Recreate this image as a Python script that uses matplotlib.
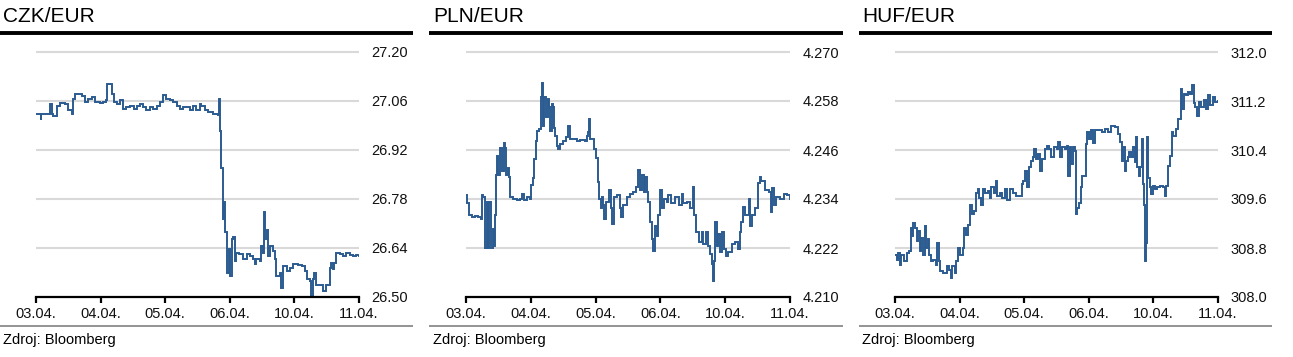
import matplotlib
matplotlib.use("Agg")
import matplotlib.pyplot as plt
from matplotlib.lines import Line2D

plt.rcParams['font.family'] = ['Liberation Sans', 'DejaVu Sans']

# ---------------- data ----------------
date_labels = ["03.04.", "04.04.", "05.04.", "06.04.", "10.04.", "11.04."]
source_text = "Zdroj: Bloomberg"

czk_title = "CZK/EUR"
czk_x = [0.00, 0.06, 0.07, 0.08, 0.22, 0.22, 0.24, 0.27, 0.32, 0.37, 0.45, 0.50, 0.55, 0.58, 0.60,
         0.65, 0.71, 0.76, 0.81, 0.86, 0.91, 0.99, 1.04, 1.08, 1.10, 1.14, 1.17, 1.20, 1.25, 1.30,
         1.35, 1.40, 1.45, 1.51, 1.56, 1.61, 1.66, 1.71, 1.76, 1.81, 1.87, 1.92, 1.97, 2.02, 2.07,
         2.12, 2.18, 2.23, 2.28, 2.33, 2.38, 2.43, 2.48, 2.54, 2.56, 2.61, 2.66, 2.74, 2.82, 2.84,
         2.85, 2.86, 2.87, 2.89, 2.91, 2.93, 2.95, 2.96, 2.98, 3.00, 3.03, 3.05, 3.08, 3.10, 3.15,
         3.21, 3.26, 3.31, 3.36, 3.39, 3.41, 3.46, 3.49, 3.52, 3.53, 3.55, 3.57, 3.59, 3.62, 3.67,
         3.70, 3.72, 3.77, 3.80, 3.82, 3.88, 3.93, 3.98, 4.06, 4.11, 4.16, 4.19, 4.24, 4.26, 4.29,
         4.31, 4.34, 4.39, 4.44, 4.49, 4.55, 4.57, 4.60, 4.62, 4.65, 4.70, 4.75, 4.80, 4.86, 4.91,
         4.96, 5.00]
czk_y = [27.023, 27.023, 27.006, 27.023, 27.023, 27.050, 27.023, 27.018, 27.047, 27.054, 27.052,
         27.033, 27.023, 27.067, 27.081, 27.081, 27.074, 27.057, 27.067, 27.070, 27.057, 27.054,
         27.057, 27.062, 27.108, 27.108, 27.081, 27.057, 27.052, 27.062, 27.038, 27.043, 27.045,
         27.038, 27.045, 27.050, 27.043, 27.035, 27.043, 27.038, 27.045, 27.057, 27.076, 27.067,
         27.062, 27.057, 27.047, 27.038, 27.043, 27.043, 27.033, 27.047, 27.033, 27.052, 27.047,
         27.033, 27.028, 27.023, 27.021, 27.067, 26.975, 26.936, 26.869, 26.724, 26.772, 26.685,
         26.647, 26.569, 26.637, 26.560, 26.666, 26.671, 26.603, 26.627, 26.622, 26.608, 26.622,
         26.618, 26.608, 26.593, 26.608, 26.603, 26.647, 26.627, 26.743, 26.666, 26.690, 26.618,
         26.647, 26.632, 26.608, 26.560, 26.569, 26.526, 26.589, 26.574, 26.584, 26.593, 26.591,
         26.589, 26.574, 26.550, 26.545, 26.502, 26.550, 26.569, 26.535, 26.535, 26.516, 26.535,
         26.584, 26.598, 26.579, 26.598, 26.625, 26.622, 26.618, 26.625, 26.620, 26.618, 26.620,
         26.618]
czk_ticks = [26.50, 26.64, 26.78, 26.92, 27.06, 27.20]
czk_ticklabels = ["26.50", "26.64", "26.78", "26.92", "27.06", "27.20"]

pln_title = "PLN/EUR"
pln_x = [0.00, 0.01, 0.04, 0.05, 0.09, 0.14, 0.19, 0.23, 0.24, 0.27, 0.29, 0.32, 0.34, 0.36, 0.38,
         0.41, 0.43, 0.45, 0.47, 0.48, 0.50, 0.52, 0.55, 0.58, 0.60, 0.62, 0.65, 0.66, 0.68, 0.73,
         0.78, 0.83, 0.87, 0.90, 0.94, 0.99, 1.01, 1.04, 1.05, 1.08, 1.10, 1.13, 1.15, 1.17, 1.19,
         1.21, 1.23, 1.26, 1.28, 1.30, 1.32, 1.35, 1.36, 1.38, 1.40, 1.42, 1.45, 1.50, 1.55, 1.58,
         1.60, 1.66, 1.71, 1.76, 1.84, 1.86, 1.89, 1.90, 1.92, 1.97, 2.01, 2.04, 2.06, 2.08, 2.10,
         2.12, 2.13, 2.16, 2.20, 2.23, 2.26, 2.29, 2.33, 2.37, 2.39, 2.43, 2.48, 2.53, 2.58, 2.62,
         2.66, 2.69, 2.71, 2.74, 2.76, 2.79, 2.81, 2.84, 2.87, 2.89, 2.92, 2.94, 2.97, 2.99, 3.02,
         3.05, 3.10, 3.12, 3.17, 3.23, 3.28, 3.33, 3.35, 3.41, 3.46, 3.50, 3.52, 3.55, 3.59, 3.64,
         3.66, 3.70, 3.74, 3.77, 3.79, 3.81, 3.83, 3.84, 3.87, 3.89, 3.92, 3.95, 3.98, 4.01, 4.05,
         4.10, 4.15, 4.20, 4.23, 4.25, 4.28, 4.31, 4.36, 4.38, 4.41, 4.46, 4.50, 4.53, 4.56, 4.61,
         4.67, 4.70, 4.72, 4.75, 4.79, 4.85, 4.90, 4.95, 5.00]
pln_y = [4.2350, 4.2329, 4.2325, 4.2300, 4.2296, 4.2298, 4.2296, 4.2292, 4.2351, 4.2345, 4.2221,
         4.2333, 4.2221, 4.2333, 4.2221, 4.2267, 4.2226, 4.2300, 4.2399, 4.2445, 4.2399, 4.2466,
         4.2408, 4.2478, 4.2466, 4.2399, 4.2416, 4.2395, 4.2345, 4.2341, 4.2337, 4.2341, 4.2353,
         4.2337, 4.2345, 4.2341, 4.2375, 4.2391, 4.2437, 4.2482, 4.2507, 4.2511, 4.2590, 4.2623,
         4.2520, 4.2590, 4.2540, 4.2586, 4.2565, 4.2507, 4.2573, 4.2565, 4.2515, 4.2495, 4.2470,
         4.2462, 4.2474, 4.2482, 4.2491, 4.2520, 4.2486, 4.2486, 4.2482, 4.2484, 4.2482, 4.2495,
         4.2503, 4.2536, 4.2486, 4.2462, 4.2441, 4.2381, 4.2341, 4.2317, 4.2345, 4.2325, 4.2292,
         4.2333, 4.2362, 4.2317, 4.2280, 4.2345, 4.2350, 4.2317, 4.2296, 4.2325, 4.2345, 4.2353,
         4.2358, 4.2370, 4.2411, 4.2362, 4.2399, 4.2358, 4.2395, 4.2358, 4.2333, 4.2284, 4.2242,
         4.2213, 4.2275, 4.2250, 4.2300, 4.2362, 4.2317, 4.2341, 4.2333, 4.2350, 4.2329, 4.2345,
         4.2325, 4.2353, 4.2329, 4.2333, 4.2317, 4.2370, 4.2300, 4.2259, 4.2234, 4.2259, 4.2230,
         4.2259, 4.2226, 4.2205, 4.2180, 4.2139, 4.2188, 4.2284, 4.2226, 4.2255, 4.2209, 4.2259,
         4.2218, 4.2201, 4.2209, 4.2230, 4.2234, 4.2218, 4.2259, 4.2284, 4.2321, 4.2300, 4.2341,
         4.2275, 4.2300, 4.2317, 4.2379, 4.2395, 4.2383, 4.2362, 4.2358, 4.2308, 4.2366, 4.2325,
         4.2345, 4.2341, 4.2353, 4.2350, 4.2341]
pln_ticks = [4.210, 4.222, 4.234, 4.246, 4.258, 4.270]
pln_ticklabels = ["4.210", "4.222", "4.234", "4.246", "4.258", "4.270"]

huf_title = "HUF/EUR"
huf_x = [0.00, 0.03, 0.05, 0.07, 0.10, 0.14, 0.18, 0.22, 0.24, 0.26, 0.28, 0.31, 0.34, 0.36, 0.39,
         0.41, 0.44, 0.46, 0.48, 0.51, 0.53, 0.56, 0.59, 0.63, 0.65, 0.68, 0.70, 0.75, 0.80, 0.84,
         0.87, 0.89, 0.93, 0.95, 0.98, 1.01, 1.05, 1.07, 1.10, 1.13, 1.16, 1.19, 1.22, 1.25, 1.28,
         1.30, 1.33, 1.36, 1.39, 1.44, 1.47, 1.49, 1.53, 1.56, 1.58, 1.62, 1.66, 1.70, 1.73, 1.78,
         1.83, 1.88, 1.93, 1.96, 1.98, 2.01, 2.05, 2.08, 2.10, 2.13, 2.15, 2.18, 2.22, 2.25, 2.28,
         2.32, 2.36, 2.39, 2.42, 2.46, 2.50, 2.53, 2.55, 2.59, 2.63, 2.66, 2.68, 2.71, 2.73, 2.76,
         2.78, 2.80, 2.82, 2.85, 2.88, 2.90, 2.94, 2.95, 2.97, 3.01, 3.03, 3.06, 3.09, 3.14, 3.20,
         3.25, 3.30, 3.35, 3.40, 3.45, 3.49, 3.51, 3.53, 3.56, 3.58, 3.61, 3.63, 3.66, 3.69, 3.71,
         3.73, 3.75, 3.78, 3.80, 3.82, 3.84, 3.86, 3.87, 3.88, 3.90, 3.92, 3.94, 3.97, 3.99, 4.02,
         4.05, 4.10, 4.15, 4.18, 4.19, 4.23, 4.26, 4.29, 4.31, 4.35, 4.38, 4.41, 4.42, 4.45, 4.47,
         4.50, 4.54, 4.57, 4.60, 4.63, 4.65, 4.68, 4.71, 4.74, 4.78, 4.81, 4.85, 4.88, 4.92, 4.96,
         5.00]
huf_y = [308.69, 308.61, 308.72, 308.53, 308.69, 308.58, 308.72, 308.75, 309.13, 308.99, 309.21,
         309.13, 308.91, 309.07, 308.75, 308.96, 308.69, 309.16, 308.80, 308.94, 308.69, 308.58,
         308.61, 308.53, 308.88, 308.58, 308.42, 308.39, 308.50, 308.44, 308.31, 308.50, 308.39,
         308.58, 308.80, 308.69, 308.80, 309.13, 309.02, 309.18, 309.51, 309.35, 309.40, 309.70,
         309.76, 309.62, 309.51, 309.76, 309.70, 309.73, 309.62, 309.79, 309.70, 309.90, 309.65,
         309.70, 309.62, 309.76, 309.59, 309.76, 309.70, 309.65, 309.65, 309.84, 309.90, 310.06,
         309.79, 310.12, 310.22, 310.28, 310.42, 310.25, 310.33, 310.06, 310.25, 310.42, 310.47,
         310.42, 310.28, 310.45, 310.42, 310.53, 310.28, 310.45, 310.42, 310.47, 309.98, 310.45,
         310.17, 310.45, 310.39, 309.35, 309.46, 309.54, 309.79, 309.98, 309.98, 310.50, 310.69,
         310.58, 310.72, 310.52, 310.72, 310.72, 310.69, 310.75, 310.69, 310.80, 310.77, 310.66,
         310.53, 310.22, 310.45, 310.06, 310.22, 310.28, 310.36, 310.28, 310.45, 310.20, 310.61,
         310.12, 309.98, 310.12, 310.58, 309.84, 309.51, 308.58, 308.88, 310.61, 309.95, 309.79,
         309.68, 309.81, 309.76, 309.79, 309.81, 309.79, 309.65, 309.81, 310.14, 310.31, 310.69,
         310.63, 310.75, 310.91, 310.91, 311.40, 311.07, 311.32, 311.29, 311.35, 311.32, 311.46,
         311.16, 311.10, 310.96, 311.18, 311.10, 311.21, 311.07, 311.29, 311.13, 311.27, 311.18,
         311.20]
huf_ticks = [308.0, 308.8, 309.6, 310.4, 311.2, 312.0]
huf_ticklabels = ["308.0", "308.8", "309.6", "310.4", "311.2", "312.0"]

# ---------------- layout / style ----------------
W, H = 1293, 357
fig = plt.figure(figsize=(W / 100, H / 100), dpi=100)

line_color = "#2b5b91"
grid_color = "#d9d9d9"
text_color = "#111111"

panels = [
    dict(title=czk_title, x=czk_x, y=czk_y, ticks=czk_ticks, labels=czk_ticklabels,
         ax_l=36, ax_r=359, p_l=0, p_r=413, t_x=3),
    dict(title=pln_title, x=pln_x, y=pln_y, ticks=pln_ticks, labels=pln_ticklabels,
         ax_l=466, ax_r=790, p_l=429, p_r=843, t_x=433),
    dict(title=huf_title, x=huf_x, y=huf_y, ticks=huf_ticks, labels=huf_ticklabels,
         ax_l=895, ax_r=1218, p_l=859, p_r=1272, t_x=862),
]

y_bot_px = 297.0
y_top_px = 52.0
margin = 0.03  # fraction of range above top gridline

def fx(px):
    return px / W

def fy(px):
    return (H - px) / H

for p in panels:
    span_px = y_bot_px - y_top_px
    top_px = y_top_px - margin * span_px
    ax = fig.add_axes([fx(p["ax_l"]), fy(y_bot_px), fx(p["ax_r"]) - fx(p["ax_l"]),
                       (y_bot_px - top_px) / H])
    ymin, ymax = p["ticks"][0], p["ticks"][-1]
    ax.set_ylim(ymin, ymax + margin * (ymax - ymin))
    ax.set_xlim(0, 5)

    for t in p["ticks"][1:]:
        ax.axhline(t, color=grid_color, lw=1.5, zorder=1)

    ax.plot(p["x"], p["y"], color=line_color, lw=1.4, drawstyle="steps-post", zorder=3,
            solid_joinstyle="miter")

    for s in ["top", "left", "right"]:
        ax.spines[s].set_visible(False)
    ax.spines["bottom"].set_color("black")
    ax.spines["bottom"].set_linewidth(1.6)
    ax.spines["bottom"].set_zorder(4)

    ax.set_xticks(range(len(date_labels)))
    ax.set_xticklabels(date_labels)
    ax.tick_params(axis="x", direction="out", length=4, width=1.6, color="black",
                   pad=3, labelsize=10.5, labelcolor=text_color)

    ax.yaxis.tick_right()
    ax.set_yticks(p["ticks"])
    ax.set_yticklabels(p["labels"])
    ax.tick_params(axis="y", length=0, pad=9, labelsize=10.5, labelcolor=text_color)
    ax.set_facecolor("none")

    # title
    fig.text(fx(p["t_x"]), fy(21.5), p["title"], fontsize=15, color="black",
             ha="left", va="baseline")
    # thick black line under title
    fig.add_artist(Line2D([fx(p["p_l"]), fx(p["p_r"])], [fy(33), fy(33)],
                          color="black", lw=2.8, solid_capstyle="butt"))
    # gray line above source
    fig.add_artist(Line2D([fx(p["p_l"]), fx(p["p_r"])], [fy(326), fy(326)],
                          color="#8a8a8a", lw=1.3, solid_capstyle="butt"))
    # source
    fig.text(fx(p["t_x"]), fy(344), source_text, fontsize=10.5,
             color="black", ha="left", va="baseline")

fig.savefig("out.png", dpi=100)
